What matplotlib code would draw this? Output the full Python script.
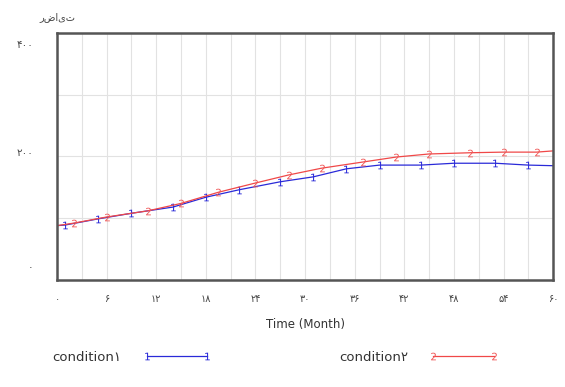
import numpy as np
import matplotlib.pyplot as plt

# داده ها (خوانده شده از تصویر)
t_1 = [0, 1, 5, 9, 14, 18, 22, 27, 31, 35, 39, 44, 48, 53, 57, 60]
v_1 = [88, 89, 99, 108, 118, 134, 146, 159, 167, 180, 186, 186, 189, 189, 186, 185]
t_2 = [0, 2, 6, 11, 15, 19.5, 24, 28, 32, 37, 41, 45, 50, 54, 58, 60]
v_2 = [88, 92, 102, 112, 124, 142, 157, 170, 181, 191, 199, 204, 206, 207, 207, 209]

x_ticks = [0, 6, 12, 18, 24, 30, 36, 42, 48, 54, 60]
x_labels = ["۰", "۶", "۱۲", "۱۸", "۲۴", "۳۰", "۳۶", "۴۲", "۴۸", "۵۴", "۶۰"]
y_ticks = [0, 200, 400]
y_labels = ["۰", "۲۰۰", "۴۰۰"]
y_title = "رضایت"
names = ["condition۱", "condition۲"]

fig = plt.figure(figsize=(5.65, 3.87), dpi=100)
ax = fig.add_axes([0.101, 0.2765, 0.878, 0.6385])

ax.plot(t_1, v_1, color="#2a2ad8", lw=0.9, marker="$1$", markersize=5.5,
        markeredgewidth=0, markevery=slice(1, -1), label=names[0])
ax.plot(t_2, v_2, color="#f04848", lw=0.9, marker="$2$", markersize=5.5,
        markeredgewidth=0, markerfacecolor="#f05858", markevery=slice(1, -1),
        label=names[1])

ax.set_xlim(0, 60)
ax.set_ylim(0, 400)
ax.set_xticks(np.arange(0, 61, 3), minor=True)
ax.set_xticks(x_ticks)
ax.set_xticklabels(x_labels, fontsize=7, color="#444444")
ax.set_yticks(np.arange(0, 401, 100), minor=True)
ax.set_yticks(y_ticks)
ax.set_yticklabels([])
# لیبل های محور y مثل ونسیم کمی داخل بازه جابجا شده اند
shift = {0: 13, 200: 3, 400: -12}
for v, lab in zip(y_ticks, y_labels):
    ax.annotate(lab, xy=(0, v), xycoords=("axes fraction", "data"),
                xytext=(-24, shift[v]), textcoords="offset pixels",
                ha="right", va="center", fontsize=7.5, color="#444444")
ax.tick_params(which="both", length=0)
ax.tick_params(axis="x", pad=10)
ax.grid(which="both", color="#e2e2e2", lw=0.8)
for s in ax.spines.values():
    s.set_color("#555555")
    s.set_linewidth(1.8)

ax.set_xlabel("Time (Month)", fontsize=8.5, color="#333333", labelpad=10)
ax.text(0.0, 1.065, y_title, transform=ax.transAxes, fontsize=7,
        color="#444444", ha="center", va="center")

fig.legend(loc="lower left", bbox_to_anchor=(0.072, 0.03), ncol=2,
           markerfirst=False, frameon=False, fontsize=9.5, handlelength=5.2,
           numpoints=2, columnspacing=9.7, handletextpad=1.6,
           labelcolor="#333333")

fig.savefig("out.png", dpi=100)
